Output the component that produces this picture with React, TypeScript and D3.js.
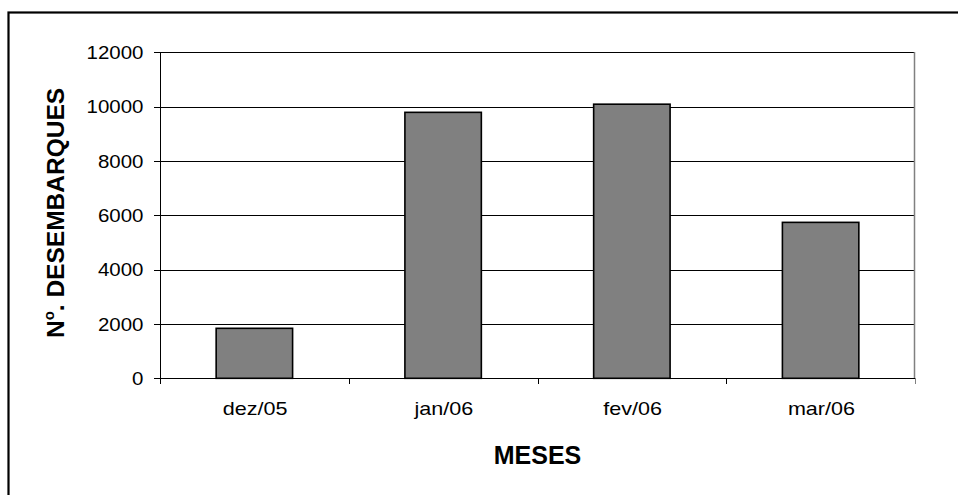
import React from "react";
import * as d3 from "d3";

const categories = ["dez/05", "jan/06", "fev/06", "mar/06"];
const values = [1840, 9790, 10090, 5740];
const yTicks = [0, 2000, 4000, 6000, 8000, 10000, 12000];
const xTitle = "MESES";
const yTitle = ". DESEMBARQUES";

export default function App() {
  const W = 958;
  const H = 495;
  const left = 160;
  const right = 915;
  const top = 52.3;
  const bottom = 378.3;

  const x = d3.scaleBand<string>().domain(categories).range([left, right]).padding(0);
  const y = d3.scaleLinear().domain([0, 12000]).range([bottom, top]);
  const barW = x.bandwidth() * 0.405;
  const font = "'Liberation Sans', Arial, sans-serif";
  const boundaries = d3.range(categories.length + 1).map((i) => left + i * x.step());

  return (
    <div style={{ position: "absolute", left: 0, top: 0 }}>
      <svg width={W} height={H} style={{ display: "block", background: "#fff" }}>
        <rect x={8.5} y={12.5} width={W + 20} height={H + 20} fill="#fff" stroke="#000" strokeWidth={2.2} />
        {/* gridlines */}
        {yTicks.map((t) => (
          <line key={"g" + t} x1={left} x2={right} y1={Math.round(y(t)) + 0.5} y2={Math.round(y(t)) + 0.5} stroke="#000" strokeWidth={1} />
        ))}
        {/* right plot border */}
        <line x1={right - 0.5} x2={right - 0.5} y1={Math.round(top)} y2={Math.round(bottom) + 1} stroke="#808080" strokeWidth={1.5} />
        {/* bars */}
        {categories.map((c, i) => {
          const cx = (x(c) as number) + x.bandwidth() / 2;
          const yv = y(values[i]);
          return (
            <rect
              key={c}
              x={cx - barW / 2}
              y={yv}
              width={barW}
              height={bottom - yv}
              fill="#808080"
              stroke="#000"
              strokeWidth={1.6}
            />
          );
        })}
        {/* y axis */}
        <line x1={left + 0.5} x2={left + 0.5} y1={Math.round(top)} y2={Math.round(bottom) + 6} stroke="#000" strokeWidth={1} />
        {yTicks.map((t) => (
          <line key={"yt" + t} x1={left - 6} x2={left} y1={Math.round(y(t)) + 0.5} y2={Math.round(y(t)) + 0.5} stroke="#000" strokeWidth={1} />
        ))}
        {/* x axis */}
        <line x1={left} x2={right} y1={Math.round(bottom) + 0.5} y2={Math.round(bottom) + 0.5} stroke="#000" strokeWidth={1} />
        {boundaries.map((bx, i) => (
          <line key={"xt" + i} x1={Math.round(bx) + 0.5} x2={Math.round(bx) + 0.5} y1={Math.round(bottom)} y2={Math.round(bottom) + 6} stroke={i === boundaries.length - 1 ? "#808080" : "#000"} strokeWidth={1} />
        ))}
        {/* y tick labels */}
        {yTicks.map((t) => (
          <text
            key={"yl" + t}
            transform={`translate(143.5,${y(t) + 6.8}) scale(1.1,1)`}
            textAnchor="end"
            fontFamily={font}
            fontSize={18.6}
            fill="#000"
          >
            {t}
          </text>
        ))}
        {/* x tick labels */}
        {categories.map((c) => (
          <text
            key={"xl" + c}
            transform={`translate(${(x(c) as number) + x.bandwidth() / 2 + 0.8},415) scale(1.16,1)`}
            textAnchor="middle"
            fontFamily={font}
            fontSize={18.6}
            fill="#000"
          >
            {c}
          </text>
        ))}
        {/* x title */}
        <text x={(left + right) / 2} y={464} textAnchor="middle" fontFamily={font} fontSize={25} fontWeight="bold" fill="#000">
          {xTitle}
        </text>
        {/* y title */}
        <text
          transform={`translate(64,213) rotate(-90)`}
          textAnchor="middle"
          fontFamily={font}
          fontSize={24.5}
          fontWeight="bold"
          fill="#000"
        >
          N
          <tspan fontSize={15} dy={-10}>o</tspan>
          <tspan dy={10}>{yTitle}</tspan>
        </text>
      </svg>
    </div>
  );
}
